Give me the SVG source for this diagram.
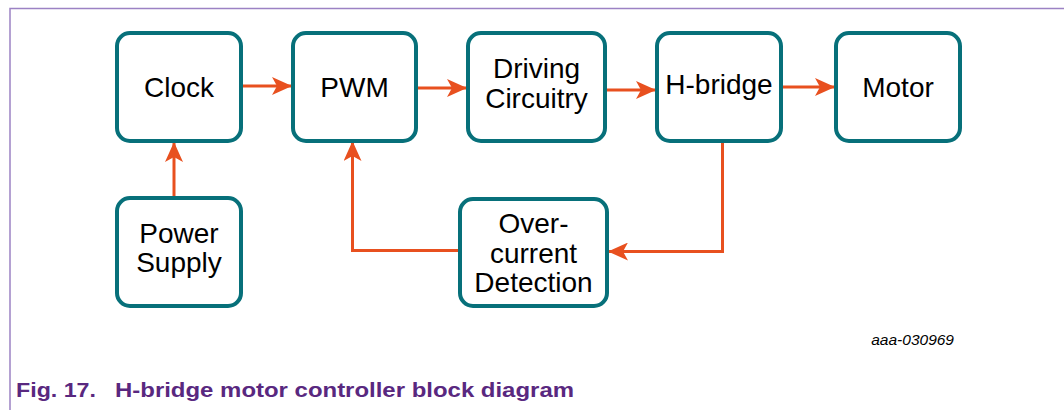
<svg xmlns="http://www.w3.org/2000/svg" width="1064" height="410" viewBox="0 0 1064 410">
  <style>
    .box { fill: #ffffff; stroke: #07707a; stroke-width: 4; }
    .lbl { font-family: "Liberation Sans", Arial, sans-serif; font-size: 28px; fill: #000000; text-anchor: middle; }
    .wire { fill: none; stroke: #e8501f; stroke-width: 3; }
    .frame { fill: none; stroke: #9c82c4; stroke-width: 1.5; }
    .cap { font-family: "Liberation Sans", Arial, sans-serif; font-size: 20.5px; font-weight: bold; fill: #59287f; }
    .code { font-family: "Liberation Sans", Arial, sans-serif; font-size: 15.5px; font-style: italic; fill: #000000; text-anchor: end; }
  </style>
  <defs>
    <marker id="head" viewBox="0 0 20 18" refX="19" refY="9" markerWidth="20" markerHeight="18" markerUnits="userSpaceOnUse" orient="auto">
      <path d="M0,0 L20,9 L0,18 L5,9 Z" fill="#e8501f"/>
    </marker>
  </defs>

  <!-- figure frame -->
  <path class="frame" d="M10,410 L10,8.5 L1064,8.5"/>

  <!-- connectors -->
  <g id="connectors">
    <path class="wire" d="M243,86 L291,86" marker-end="url(#head)"/>
    <path class="wire" d="M418,88 L466,88" marker-end="url(#head)"/>
    <path class="wire" d="M607,90 L655,90" marker-end="url(#head)"/>
    <path class="wire" d="M783,87 L834,87" marker-end="url(#head)"/>
    <path class="wire" d="M174,196 L174,143" marker-end="url(#head)"/>
    <path class="wire" d="M722.5,143 L722.5,251.5 L609,251.5" marker-end="url(#head)"/>
    <path class="wire" d="M458,250.5 L352.5,250.5 L352.5,142" marker-end="url(#head)"/>
  </g>

  <!-- blocks -->
  <g id="clock">
    <rect class="box" x="117" y="33" width="124" height="108" rx="13"/>
    <text class="lbl" x="179" y="97">Clock</text>
  </g>
  <g id="pwm">
    <rect class="box" x="293" y="33" width="123" height="108" rx="13"/>
    <text class="lbl" x="354.5" y="97">PWM</text>
  </g>
  <g id="driving-circuitry">
    <rect class="box" x="468" y="33" width="137" height="108" rx="13"/>
    <text class="lbl" x="536.5" y="78">Driving</text>
    <text class="lbl" x="536.5" y="108">Circuitry</text>
  </g>
  <g id="h-bridge">
    <rect class="box" x="657" y="33" width="124" height="108" rx="13"/>
    <text class="lbl" x="719" y="94">H-bridge</text>
  </g>
  <g id="motor">
    <rect class="box" x="836" y="33" width="124" height="108" rx="13"/>
    <text class="lbl" x="898" y="97">Motor</text>
  </g>
  <g id="power-supply">
    <rect class="box" x="117" y="198" width="124" height="108" rx="13"/>
    <text class="lbl" x="179" y="243">Power</text>
    <text class="lbl" x="179" y="272">Supply</text>
  </g>
  <g id="over-current-detection">
    <rect class="box" x="460" y="199" width="147" height="107" rx="13"/>
    <text class="lbl" x="533.5" y="233">Over-</text>
    <text class="lbl" x="533.5" y="262.5">current</text>
    <text class="lbl" x="533.5" y="292">Detection</text>
  </g>

  <!-- drawing code and caption -->
  <text class="code" x="954" y="345">aaa-030969</text>
  <text class="cap" x="16" y="397" textLength="80" lengthAdjust="spacingAndGlyphs">Fig. 17.</text>
  <text class="cap" x="115" y="397" textLength="459" lengthAdjust="spacingAndGlyphs">H-bridge motor controller block diagram</text>
</svg>
